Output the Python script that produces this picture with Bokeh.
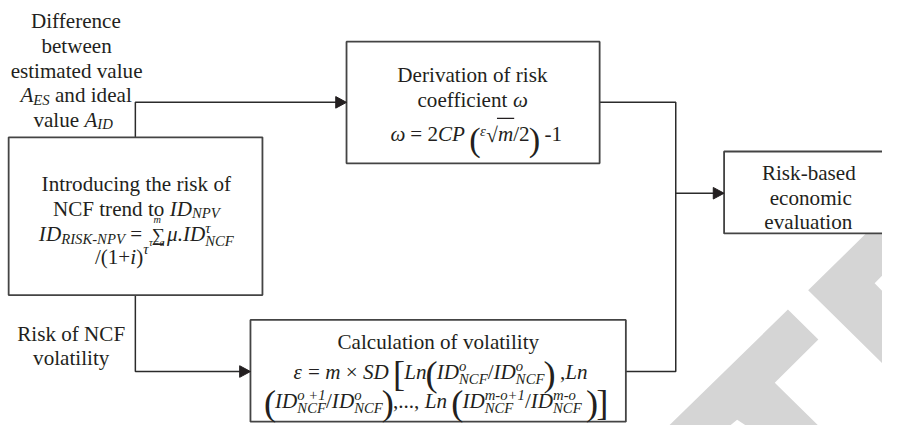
from bokeh.plotting import figure
from bokeh.models import Range1d, ColumnDataSource
from bokeh.core.properties import value, field
from bokeh.embed import file_html
from bokeh.resources import INLINE

# ---------------- texts of the flowchart ----------------
# each line is a list of runs: r=regular, i=italic, sub/sup=italic index,
# ss=stacked sup+sub, big=tall bracket, sum=sigma with limits,
# sqrt=radical over text, sm=small raised symbol
input_lines = [
    [("r", "Difference")],
    [("r", "between")],
    [("r", "estimated value")],
    [("i", "A"), ("sub", "ES"), ("r", " and ideal")],
    [("r", "value "), ("i", "A"), ("sub", "ID")],
]
risk_lines = [
    [("r", "Risk of NCF")],
    [("r", "volatility")],
]
intro_lines = [
    [("r", "Introducing the risk of")],
    [("r", "NCF trend to "), ("i", "ID"), ("sub", "NPV")],
    [("i", "ID"), ("sub", "RISK-NPV"), ("r", " = "), ("sum", "m", "τ=a"),
     ("i", "μ.ID"), ("ss", "τ", "NCF")],
    [("r", "/(1+"), ("i", "i"), ("r", ")"), ("sup", "τ")],
]
deriv_lines = [
    [("r", "Derivation of risk")],
    [("r", "coefficient "), ("i", "ω")],
    [("i", "ω"), ("r", " = 2"), ("i", "CP"), ("r", " "), ("big", "("), ("sm", "ε"),
     ("sqrt", "m"), ("r", "/2"), ("big", ")"), ("r", " -1")],
]
eval_lines = [
    [("r", "Risk-based")],
    [("r", "economic")],
    [("r", "evaluation")],
]
calc_lines = [
    [("r", "Calculation of volatility")],
    [("i", "ε"), ("r", " = "), ("i", "m"), ("r", " × "), ("i", "SD"), ("r", " "),
     ("big", "["), ("i", "Ln"), ("big", "("), ("i", "ID"), ("ss", "o", "NCF"),
     ("r", "/"), ("i", "ID"), ("ss", "o", "NCF"), ("big", ")"), ("r", " ,"), ("i", "Ln")],
    [("big", "("), ("i", "ID"), ("ss", "o +1", "NCF"), ("r", "/"), ("i", "ID"),
     ("ss", "o", "NCF"), ("big", ")"), ("r", ",..., "), ("i", "Ln"), ("r", " "),
     ("big", "("), ("i", "ID"), ("ss", "m-o+1", "NCF"), ("r", "/"), ("i", "ID"),
     ("ss", "m-o", "NCF"), ("r", " "), ("big", ")"), ("big", "]")],
]

# ---------------- layout (reference pixel space 898 x 441) ----------------
W_REF, H_REF = 898, 441
PW, PH = 882, 425
SX = PW / W_REF

FONT = "Liberation Serif"
FS = 21.5      # base font
SUB = 15.0     # index font
LIM = 10.5     # sigma limits
SUMS = 19.0    # sigma glyph
BIG = 37.0     # tall brackets
BIG_ADV = 0.28 # advance of a tall bracket, in em

# block: lines, centre x per line, baseline per line, big bracket size, big dy
blocks = [
    (input_lines, [77, 77.5, 77.5, 77, 74], [21.5, 47.5, 73, 98.5, 123.5], BIG, 0),
    (risk_lines, [72, 72], [346, 371], BIG, 0),
    (intro_lines, [138.3, 138.3, 138.3, 124], [190, 216, 242.5, 266.5], BIG, 0),
    (deriv_lines, [480.5, 480.5, 484.5], [77, 103, 139], 35.0, 5),
    (eval_lines, [823, 825, 822.5], [179, 204.5, 229.5], BIG, 0),
    (calc_lines, [445.8, 448.0, 443.5], [354.5, 385.3, 415.5], BIG, 2.5),
]

# boxes: left, right, top, bottom
box_l = [8.3, 352.3, 736.7, 254.5]
box_r = [266.7, 610.0, 905.0, 636.7]
box_t = [142.0, 42.7, 156.7, 331.5]
box_b = [305.7, 169.0, 241.7, 437.0]

# connectors
trunk_x = 137.3
merge_x = 687.5
y_top_link = 105.7
y_bot_link = 385.0
y_eval = 200.0

REG = {' ': 250, '(': 333, ')': 333, '+': 564, ',': 250, '-': 333, '.': 250, '/': 278,
       '=': 564, '[': 333, ']': 333, '×': 564, '∑': 600, 'μ': 500, 'ω': 680, 'ε': 440,
       'τ': 440, '√': 549,
       'A': 722, 'B': 667, 'C': 667, 'D': 722, 'E': 611, 'F': 556, 'G': 722, 'H': 722,
       'I': 333, 'J': 389, 'K': 722, 'L': 611, 'M': 889, 'N': 722, 'O': 722, 'P': 556,
       'Q': 722, 'R': 667, 'S': 556, 'T': 611, 'U': 722, 'V': 722, 'W': 944, 'X': 722,
       'Y': 722, 'Z': 611,
       'a': 444, 'b': 500, 'c': 444, 'd': 500, 'e': 444, 'f': 333, 'g': 500, 'h': 500,
       'i': 278, 'j': 278, 'k': 500, 'l': 278, 'm': 778, 'n': 500, 'o': 500, 'p': 500,
       'q': 500, 'r': 333, 's': 389, 't': 278, 'u': 500, 'v': 500, 'w': 722, 'x': 500,
       'y': 500, 'z': 444}
ITA = {' ': 250, '(': 333, ')': 333, '+': 675, ',': 250, '-': 333, '.': 250, '/': 278,
       '=': 675, 'ω': 680, 'ε': 440, 'τ': 440, 'μ': 500,
       'A': 611, 'C': 667, 'D': 722, 'E': 611, 'F': 611, 'I': 333, 'K': 667, 'L': 556,
       'M': 833, 'N': 667, 'O': 722, 'P': 611, 'R': 611, 'S': 500, 'V': 611,
       'a': 500, 'b': 500, 'c': 444, 'd': 500, 'e': 444, 'f': 278, 'g': 500, 'h': 500,
       'i': 278, 'j': 278, 'k': 444, 'l': 278, 'm': 722, 'n': 500, 'o': 500, 'p': 500,
       'q': 500, 'r': 389, 's': 389, 't': 278, 'u': 500, 'v': 444, 'w': 667, 'x': 444,
       'y': 444, 'z': 389}


def tw(s, italic, size):
    tab = ITA if italic else REG
    return sum(tab.get(c, 500) for c in s) / 1000.0 * size


runs = {"normal": dict(x=[], y=[], text=[], size=[]),
        "italic": dict(x=[], y=[], text=[], size=[])}
ov_x0, ov_x1, ov_y = [], [], []


def emit(x, y, t, size, style):
    # svg text drops leading blanks: shift the start instead
    lead = len(t) - len(t.lstrip(" "))
    if lead:
        x += tw(" " * lead, style == "italic", size)
        t = t.lstrip(" ")
    t = t.rstrip(" ")
    if not t:
        return
    d = runs[style]
    d["x"].append(x); d["y"].append(y); d["text"].append(t)
    d["size"].append(f"{size * SX:.2f}px")


def part_width(p, big):
    k = p[0]
    if k == "r":
        return tw(p[1], False, FS)
    if k == "i":
        return tw(p[1], True, FS)
    if k in ("sub", "sup", "sm"):
        return tw(p[1], True, SUB)
    if k == "ss":
        return max(tw(p[1], True, SUB), tw(p[2], True, SUB))
    if k == "big":
        return BIG_ADV * big
    if k == "sum":
        return max(tw("∑", False, SUMS), tw(p[1], True, LIM), tw(p[2], True, LIM)) + 3
    if k == "sqrt":
        return tw("√", False, FS) + tw(p[1], True, FS)
    return 0


def layout_line(parts, cx, base, big, bdy):
    total = sum(part_width(p, big) for p in parts)
    x = cx - total / 2.0
    for p in parts:
        k = p[0]
        w = part_width(p, big)
        if k == "r":
            emit(x, base, p[1], FS, "normal")
        elif k == "i":
            emit(x, base, p[1], FS, "italic")
        elif k == "sub":
            emit(x, base + 4.5, p[1], SUB, "italic")
        elif k == "sup":
            emit(x, base - 8.5, p[1], SUB, "italic")
        elif k == "sm":
            emit(x, base - 4, p[1], SUB, "italic")
        elif k == "ss":
            emit(x, base - 6.5, p[1], SUB, "italic")
            emit(x, base + 7, p[2], SUB, "italic")
        elif k == "big":
            gw = tw(p[1], False, big)
            emit(x - (gw - w) / 2, base + bdy, p[1], big, "normal")
        elif k == "sum":
            ws = tw("∑", False, SUMS)
            emit(x + (w - ws) / 2, base, "∑", SUMS, "normal")
            wu = tw(p[1], True, LIM)
            emit(x + (w - wu) / 2, base - 15.5, p[1], LIM, "italic")
            wl = tw(p[2], True, LIM)
            emit(x + (w - wl) / 2, base + 8.5, p[2], LIM, "italic")
        elif k == "sqrt":
            wr = tw("√", False, FS)
            emit(x, base + 1, "√", FS, "normal")
            emit(x + wr, base, p[1], FS, "italic")
            ov_x0.append(x + wr - 1.0)
            ov_x1.append(x + w + 1.0)
            ov_y.append(base - 0.78 * FS)
        x += w


for lines, cxs, bases, big, bdy in blocks:
    for parts, cx, b in zip(lines, cxs, bases):
        layout_line(parts, cx, b, big, bdy)

# ---------------- figure ----------------
p = figure(width=PW, height=PH, x_range=Range1d(0, W_REF), y_range=Range1d(H_REF, 0),
           output_backend="svg", toolbar_location=None, min_border=0)
p.axis.visible = False
p.grid.visible = False
p.outline_line_color = None
p.background_fill_color = "white"
p.border_fill_color = "white"

# watermark (light grey logo fragment)
wm_x = [[801.7, 832.7, 788.3, 833.3, 760, 750, 742, 680],
        [822.3, 898, 898, 890, 898, 898]]
wm_y = [[320.7, 351.7, 396.7, 441.7, 441.7, 435, 441.7, 441.7],
        [300.7, 225, 285, 293.3, 301.7, 376.7]]
p.patches(wm_x, wm_y, fill_color="#d5d5d5", line_color=None)

# connectors
LINE_C = "#2b2b2b"
seg_x = [[trunk_x, trunk_x, box_l[1] - 10],
         [box_r[1], merge_x, merge_x, box_r[3]],
         [merge_x, box_l[2] - 10],
         [trunk_x, trunk_x, box_l[3] - 10]]
seg_y = [[box_t[0], y_top_link, y_top_link],
         [y_top_link, y_top_link, y_bot_link, y_bot_link],
         [y_eval, y_eval],
         [box_b[0], y_bot_link, y_bot_link]]
p.multi_line(seg_x, seg_y, line_color=LINE_C, line_width=1.5)

# boxes
p.quad(left=box_l, right=box_r, top=box_t, bottom=box_b, fill_color="white",
       line_color="#444444", line_width=1.8)

# arrow heads (tip on the target box edge)
tips = [(box_l[1], y_top_link), (box_l[2], y_eval), (box_l[3], y_bot_link)]
AL, AH = 11.0, 6.0
ah_x = [[tx - AL, tx, tx - AL] for tx, ty in tips]
ah_y = [[ty - AH, ty, ty + AH] for tx, ty in tips]
p.patches(ah_x, ah_y, fill_color="#231f20", line_color="#231f20", line_width=1)

# radical overlines
p.segment(x0=ov_x0, y0=ov_y, x1=ov_x1, y1=ov_y, line_color="#231f20", line_width=1.2)

for style, d in runs.items():
    src = ColumnDataSource(d)
    p.text(x="x", y="y", text="text", source=src, text_font=value(FONT),
           text_font_size=field("size"), text_font_style=style,
           text_align="left", text_baseline="alphabetic", text_color="#231f20")

open("out.html", "w").write(file_html(p, INLINE))
